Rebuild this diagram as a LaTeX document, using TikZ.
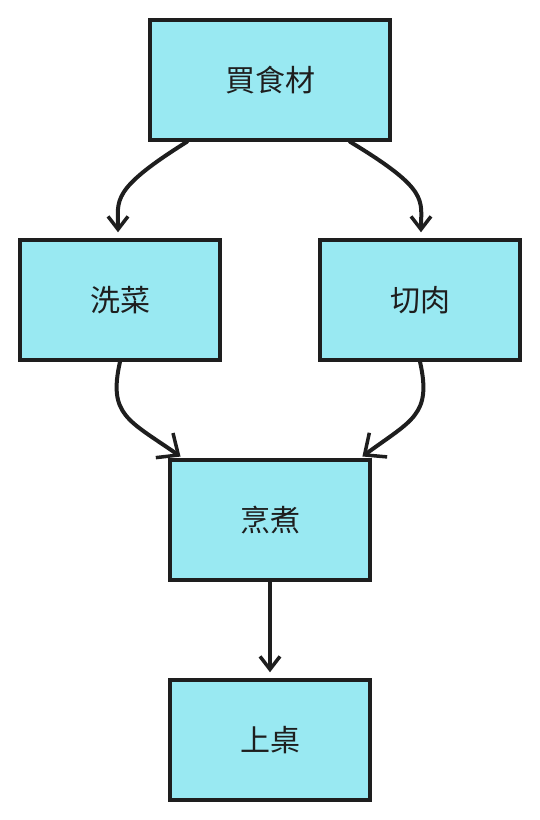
\documentclass[tikz,border=0pt]{standalone}
\usepackage{fontspec}
\newfontfamily\cjk{Noto Sans CJK TC}
\usetikzlibrary{arrows.meta}
\definecolor{boxfill}{HTML}{99E9F2}
\definecolor{ink}{HTML}{1E1E1E}
\tikzset{
  stepbox/.style={draw=ink, fill=boxfill, line width=3.5pt, rectangle,
    minimum width=200pt, minimum height=120pt, inner sep=0pt,
    font=\cjk\fontsize{30pt}{34pt}\selectfont, text=ink},
  conn/.style={draw=ink, line width=4pt, line cap=round,
    -{Straight Barb[length=13pt,width=20pt,line width=3.5pt]}},
  bigconn/.style={conn, -{Straight Barb[length=17pt,width=30pt,line width=3.5pt]}}
}
\begin{document}
\begin{tikzpicture}[x=1pt,y=-1pt]
\useasboundingbox (0,0) rectangle (540,820);
\node[stepbox, minimum width=240pt] (a) at (270,80) {買食材};
\node[stepbox] (b) at (120,300) {洗菜};
\node[stepbox] (c) at (420,300) {切肉};
\node[stepbox] (d) at (270,520) {烹煮};
\node[stepbox] (e) at (270,740) {上桌};
\draw[conn, shorten >=6pt] ([xshift=-83pt]a.south) .. controls (110,190) and (118,200) .. ([xshift=-2pt]b.north);
\draw[conn, shorten >=6pt] ([xshift=80pt]a.south) .. controls (430,190) and (421,200) .. ([xshift=1pt]c.north);
\draw[bigconn, shorten >=3pt] (b.south) .. controls (108,415) and (128,420) .. ([xshift=-87pt]d.north);
\draw[bigconn, shorten >=3pt] (c.south) .. controls (432,415) and (412,420) .. ([xshift=90pt]d.north);
\draw[conn, shorten >=6pt] (d.south) -- (e.north);
\end{tikzpicture}
\end{document}
